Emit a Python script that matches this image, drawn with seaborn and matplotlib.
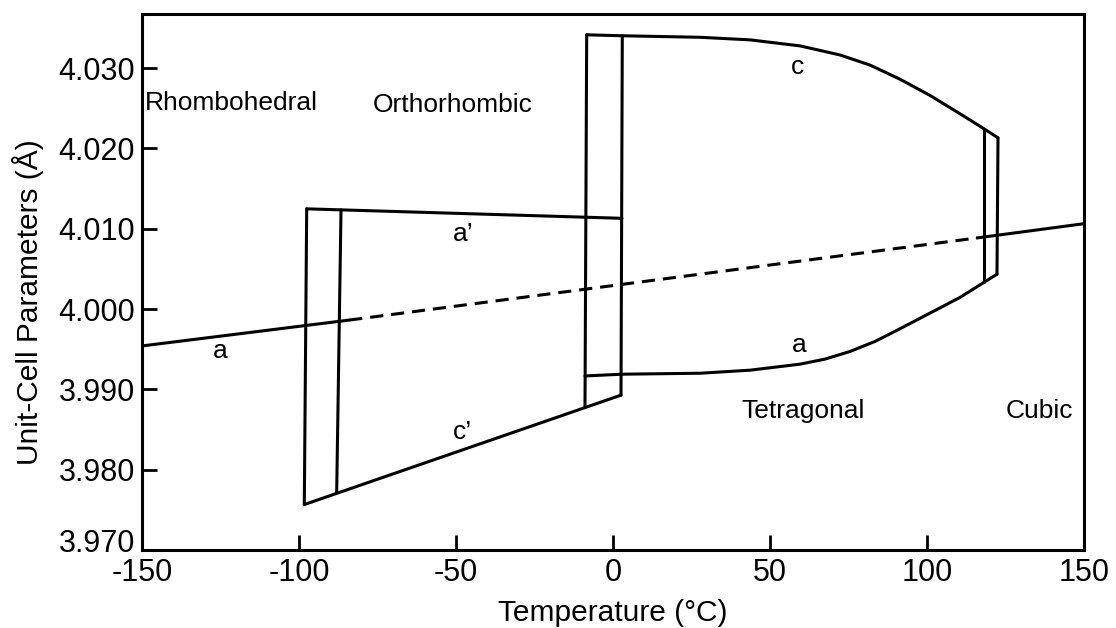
import matplotlib
matplotlib.use("Agg")
import matplotlib.pyplot as plt
from matplotlib.transforms import ScaledTranslation
import seaborn as sns

# Temperature (°C) and lattice parameter (Å) readings for BaTiO3-type phases
avg_left_T = [-150, -84]
avg_left_v = [3.99541, 3.99863]
avg_mid_T = [-84, 116]
avg_mid_v = [3.99863, 4.00886]
avg_right_T = [116, 150]
avg_right_v = [4.00886, 4.01063]

ortho_a_T = [-97.55, 2.87]
ortho_a_v = [4.01248, 4.01130]
ortho_c_T = [-98.31, 2.55]
ortho_c_v = [3.97566, 3.98928]

tetra_c_T = [-8.38, 2.96, 27.71, 43.63, 59.55, 72.29, 81.85, 91.40,
             100.96, 111.46, 118.15, 122.61]
tetra_c_v = [4.03415, 4.03403, 4.03384, 4.03352, 4.03277, 4.03164, 4.03038,
             4.02862, 4.02660, 4.02409, 4.02245, 4.02132]
tetra_a_T = [-8.92, 2.87, 27.71, 43.63, 59.55, 67.52, 75.48, 83.44, 91.40,
             110.51, 118.15, 122.29]
tetra_a_v = [3.99167, 3.99189, 3.99201, 3.99239, 3.99314, 3.99377, 3.99472,
             3.99597, 3.99755, 4.00145, 4.00333, 4.00434]

# transition boundaries (cooling / heating)
trans_T = [(-97.55, -98.31), (-86.62, -88.0), (-8.38, -8.92),
           (2.96, 2.55), (118.15, 118.15), (122.61, 122.29)]
trans_v = [(4.01248, 3.97566), (4.01235, 3.97713), (4.03415, 3.98786),
           (4.03403, 3.98928), (4.02245, 4.00333), (4.02132, 4.00434)]

x_ticks = [-150, -100, -50, 0, 50, 100, 150]
y_ticks = [3.970, 3.980, 3.990, 4.000, 4.010, 4.020, 4.030]

phase_names = ["Rhombohedral", "Orthorhombic", "Tetragonal", "Cubic"]
phase_T = [-149.0, -51.0, 60.5, 135.7]
phase_v = [4.02560, 4.02535, 3.98736, 3.98736]
phase_ha = ["left", "center", "center", "center"]

curve_names = ["c", "a\u2019", "a", "c\u2019", "a"]
curve_T = [58.6, -47.8, -125.2, -48.1, 59.2]
curve_v = [4.03013, 4.00937, 3.99478, 3.98472, 3.99553]

sns.set_theme(style="ticks")
plt.rcParams["font.family"] = ["Liberation Sans", "DejaVu Sans"]

fig = plt.figure(figsize=(11.16, 6.28), dpi=100)
ax = fig.add_axes([142 / 1116, 78 / 628, 942 / 1116, 536 / 628])

LW = 2.2
line_kw = dict(color="black", linewidth=LW, sort=False, estimator=None, ax=ax)

sns.lineplot(x=avg_left_T, y=avg_left_v, **line_kw)
sns.lineplot(x=avg_mid_T, y=avg_mid_v, linestyle=(0, (4.3, 2.6)), **line_kw)
sns.lineplot(x=avg_right_T, y=avg_right_v, **line_kw)
sns.lineplot(x=ortho_a_T, y=ortho_a_v, **line_kw)
sns.lineplot(x=ortho_c_T, y=ortho_c_v, **line_kw)
sns.lineplot(x=tetra_c_T, y=tetra_c_v, **line_kw)
sns.lineplot(x=tetra_a_T, y=tetra_a_v, **line_kw)
for tt, vv in zip(trans_T, trans_v):
    sns.lineplot(x=list(tt), y=list(vv), **line_kw)

for name, t, v, ha in zip(phase_names, phase_T, phase_v, phase_ha):
    ax.text(t, v, name, ha=ha, va="center", fontsize=19, color="black")
for name, t, v in zip(curve_names, curve_T, curve_v):
    ax.text(t, v, name, ha="center", va="center", fontsize=19, color="black")

ax.set_xlim(-150, 150)
ax.set_ylim(3.970, 4.03674)
ax.set_xticks(x_ticks)
ax.set_xticklabels([str(t) for t in x_ticks])
ax.set_yticks(y_ticks)
ax.set_yticklabels([f"{t:.3f}" for t in y_ticks])
ax.tick_params(direction="in", length=10.5, width=2.0, labelsize=22,
               colors="black", pad=6)
ax.tick_params(axis="y", pad=5)
for sp in ax.spines.values():
    sp.set_linewidth(2.2)
    sp.set_color("black")

ax.set_xlabel("Temperature (\u00b0C)", fontsize=21.5, color="black", labelpad=8)
ax.set_ylabel("Unit-Cell Parameters (\u00c5)", fontsize=21.5, color="black")
ax.yaxis.set_label_coords(-0.104, 0.463)

# lift the lowest y label clear of the x tick labels
low = ax.get_yticklabels()[0]
low.set_transform(low.get_transform() + ScaledTranslation(0, 10 / 100, fig.dpi_scale_trans))

fig.savefig("out.png", dpi=100, facecolor="white")
